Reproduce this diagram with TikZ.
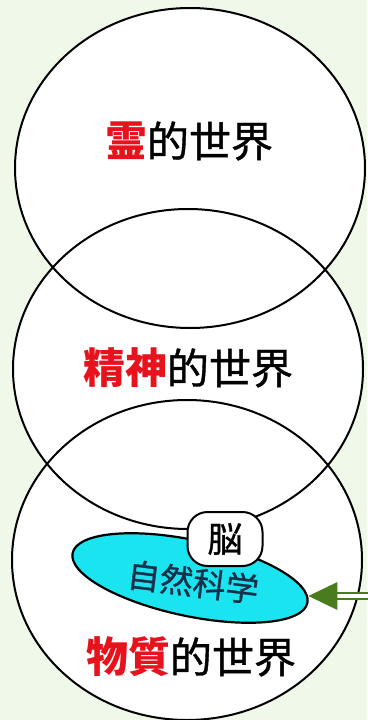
\documentclass[tikz,border=0pt]{standalone}
\usepackage{fontspec}
\newfontfamily\jp{Noto Sans CJK JP}
\newfontfamily\jpm{Noto Sans CJK JP}[UprightFeatures={FakeBold=0.9}]
\usetikzlibrary{shapes.geometric}
\definecolor{bg}{HTML}{EFF8E9}
\definecolor{redj}{HTML}{E8121C}
\definecolor{cyanf}{HTML}{1AE4F0}
\definecolor{navy}{HTML}{14304A}
\definecolor{arrg}{HTML}{4A7C1E}
\tikzset{
  world/.style={ellipse, minimum width=350pt, minimum height=320pt, inner sep=0pt},
  bigtext/.style={font=\jpm\fontsize{42}{50}\selectfont, inner sep=0pt},
  sci/.style={ellipse, fill=cyanf, draw=black, line width=2.2pt, minimum width=240pt, minimum height=76pt, inner sep=0pt, rotate=-12},
  brainbox/.style={rounded corners=20pt, fill=white, draw=black, line width=2pt, minimum width=75pt, minimum height=54pt, inner sep=0pt, font=\jpm\fontsize{35}{40}\selectfont},
  arrowline/.style={draw=arrg, line width=2.2pt, double=white, double distance=3.5pt}
}
\begin{document}
\begin{tikzpicture}[x=1pt,y=-1pt]
\fill[bg] (0,0) rectangle (367,720);
\useasboundingbox (0,0) rectangle (367,720);
% fills
\node[world, fill=white] (c1) at (190,168) {};
\node[world, fill=white] (c2) at (188,369) {};
\node[world, fill=white] (c3) at (187,560) {};
% outlines
\foreach \c in {c1,c2,c3}{
  \draw[line width=2pt] (\c.center) ellipse [x radius=175pt, y radius=160pt];
}
\node[bigtext] (t1) at (189,141) {\textcolor{redj}{\jp\bfseries 霊}的世界};
\node[bigtext] (t2) at (188,368) {\textcolor{redj}{\jp\bfseries 精神}的世界};
\node[bigtext] (t3) at (191,657) {\textcolor{redj}{\jp\bfseries 物質}的世界};
% natural science ellipse
\node[sci] (ell) at (190,578) {};
\node[font=\jpm\fontsize{33}{40}\selectfont, text=navy, rotate=-7, inner sep=0pt] (sc) at (193,582) {自然科学};
\node[brainbox] (brain) at (225,539) {脳};
% arrow
\coordinate (src) at (370,596);
\coordinate (tip) at (src -| ell.east);
\draw[arrowline] (src) -- ([xshift=26pt]tip);
\fill[arrg] (tip) -- ++(29,-14) -- ++(0,28) -- cycle;
\end{tikzpicture}
\end{document}
